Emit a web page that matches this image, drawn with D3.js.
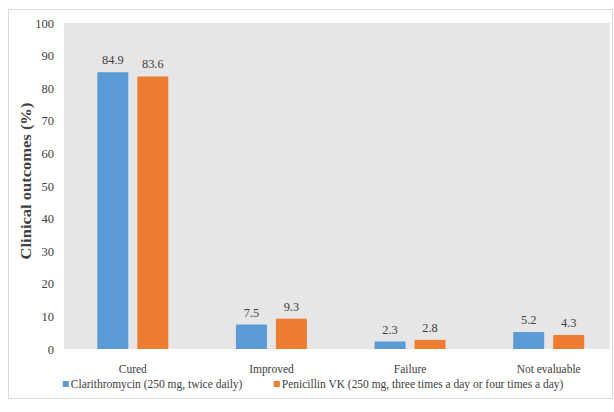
<!DOCTYPE html>
<html>
<head>
<meta charset="utf-8">
<script src="https://cdn.jsdelivr.net/npm/d3@7"></script>
<style>
  html, body { margin: 0; padding: 0; background: #ffffff; }
  svg { display: block; }
  svg text { font-family: 'Liberation Serif', 'Tinos', 'DejaVu Serif', serif; fill: #404040; }
</style>
</head>
<body>
<svg id="chart" width="614" height="412"></svg>
<script>
// Clinical outcomes by treatment arm
const categories = ["Cured", "Improved", "Failure", "Not evaluable"];
const seriesNames = [
  "Clarithromycin (250 mg, twice daily)",
  "Penicillin VK (250 mg, three times a day or four times a day)"
];
const clarithromycin = [84.9, 7.5, 2.3, 5.2];
const penicillinVK = [83.6, 9.3, 2.8, 4.3];
const yTicks = [0, 10, 20, 30, 40, 50, 60, 70, 80, 90, 100];
const colors = ["#5b9bd5", "#ed7d31"];

const serif = "'Liberation Serif', 'Tinos', 'DejaVu Serif', serif";
const seriesValues = [clarithromycin, penicillinVK];
const rows = categories.map((c, i) => ({
  category: c,
  values: seriesValues.map((vals, s) => ({ series: s, value: vals[i] }))
}));

const svg = d3.select("#chart");

// Outer frame
svg.append("rect")
  .attr("x", 8.5).attr("y", 9.5)
  .attr("width", 604).attr("height", 389)
  .attr("fill", "#ffffff")
  .attr("stroke", "#d9d9d9").attr("stroke-width", 1);

const plot = { left: 64, right: 610, top: 23, bottom: 349 };

// Plot background
svg.append("rect")
  .attr("x", plot.left).attr("y", plot.top)
  .attr("width", plot.right - plot.left)
  .attr("height", plot.bottom - plot.top)
  .attr("fill", "#e7e6e6");

const y = d3.scaleLinear().domain([0, 100]).range([plot.bottom, plot.top]);

const x0 = d3.scaleBand()
  .domain(categories)
  .range([63.5, 618])
  .paddingInner(0.488)
  .paddingOuter(0.244);

const x1 = d3.scaleBand()
  .domain([0, 1])
  .range([0, x0.bandwidth()])
  .paddingInner(0.225)
  .paddingOuter(0);

// Y axis: tick labels only
const yAxis = d3.axisLeft(y).tickValues(yTicks).tickSize(0).tickPadding(0);
const yg = svg.append("g")
  .attr("transform", "translate(54,0)")
  .call(yAxis)
  .attr("font-family", serif);
yg.select(".domain").remove();
yg.selectAll("text")
  .style("font-family", serif)
  .attr("font-size", 12.5)
  .attr("fill", "#404040");

// Y axis title
svg.append("text")
  .attr("transform", "translate(31,181) rotate(-90) scale(1.18,1)")
  .attr("text-anchor", "middle")
  .style("font-family", serif)
  .attr("font-size", 14)
  .attr("font-weight", "bold")
  .attr("fill", "#262626")
  .text("Clinical outcomes (%)");

// Bars
const groups = svg.append("g").selectAll("g")
  .data(rows)
  .join("g")
  .attr("transform", d => `translate(${x0(d.category)},0)`);

groups.selectAll("rect")
  .data(d => d.values)
  .join("rect")
  .attr("x", d => x1(d.series))
  .attr("y", d => y(d.value))
  .attr("width", x1.bandwidth())
  .attr("height", d => y(0) - y(d.value))
  .attr("fill", d => colors[d.series]);

// Value labels
groups.selectAll("text")
  .data(d => d.values)
  .join("text")
  .attr("transform", d => `translate(${x1(d.series) + x1.bandwidth() / 2},${y(d.value) - 8}) scale(0.92,1)`)
  .attr("text-anchor", "middle")
  .style("font-family", serif)
  .attr("font-size", 13.5)
  .text(d => d.value.toFixed(1));

// Category labels
const xAxis = d3.axisBottom(x0).tickSize(0).tickPadding(0);
const xg = svg.append("g").attr("transform", "translate(0,363)").call(xAxis)
  .attr("font-family", serif);
xg.select(".domain").remove();
xg.selectAll("text")
  .style("font-family", serif)
  .attr("font-size", 13.5)
  .attr("fill", "#404040")
  .attr("dy", 0)
  .attr("y", 10)
  .attr("transform", "scale(0.85,1)");

// Legend
const legendX = [62.8, 273.8];
const legend = svg.append("g").selectAll("g")
  .data(seriesNames)
  .join("g")
  .attr("transform", (d, i) => `translate(${legendX[i]},0)`);
legend.append("rect")
  .attr("x", 0).attr("y", 381)
  .attr("width", 6).attr("height", 6)
  .attr("fill", (d, i) => colors[i]);
legend.append("text")
  .attr("transform", "translate(8,388) scale(0.85,1)")
  .style("font-family", serif)
  .attr("font-size", 13.5)
  .text(d => d);
</script>
</body>
</html>
